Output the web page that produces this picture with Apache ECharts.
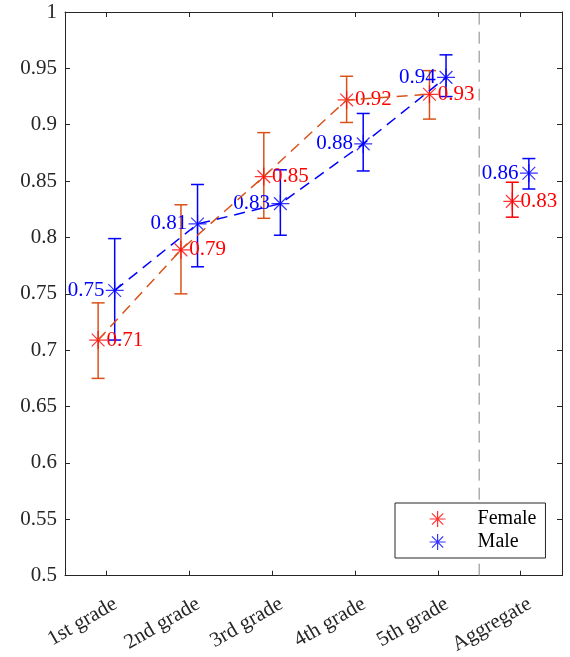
<!DOCTYPE html>
<html><head><meta charset="utf-8">
<script src="https://cdn.jsdelivr.net/npm/echarts@6/dist/echarts.min.js"></script>
<style>html,body{margin:0;padding:0;background:#fff}#c{width:570px;height:657px}</style>
</head><body><div id="c"></div>
<script>
// ---- data ----
const categories = ['1st grade','2nd grade','3rd grade','4th grade','5th grade','Aggregate'];
const femaleMean = [0.709, 0.789, 0.854, 0.922, 0.927, 0.832];
const femaleLow  = [0.675, 0.750, 0.817, 0.902, 0.905, 0.818];
const femaleHigh = [0.742, 0.829, 0.893, 0.943, 0.948, 0.849];
const maleMean   = [0.753, 0.812, 0.830, 0.883, 0.942, 0.857];
const maleLow    = [0.709, 0.774, 0.802, 0.859, 0.925, 0.843];
const maleHigh   = [0.799, 0.847, 0.860, 0.910, 0.962, 0.870];
const yMin = 0.5, yMax = 1, yStep = 0.05;
const groupOffset = 0.1;
const gradeCount = 5;
const separatorX = 5.5;

// ---- styles / layout ----
const FONT = '"Liberation Serif", "Times New Roman", serif';
const AX = '#262626';
const ORANGE = '#D95319', RED = '#FF0000', BLUE = '#0000FF';
const femaleBarColors = [ORANGE, ORANGE, ORANGE, ORANGE, ORANGE, RED];
const STAR = 'path://M0,-10L0,10M-10,0L10,0M-7.07,-7.07L7.07,7.07M-7.07,7.07L7.07,-7.07';
const labelShift = 0.11;

const tickPos = categories.map((_, i) => i + 1);
const labelPos = tickPos.map(v => v + labelShift);
const fX = tickPos.map(v => v - groupOffset), mX = tickPos.map(v => v + groupOffset);

function errData(x, lo, hi, colors) {
  return x.map((v, i) => ({ value: [v, lo[i], hi[i]], itemStyle: { color: colors[i] } }));
}
function errRender(params, api) {
  const x = api.value(0);
  const p1 = api.coord([x, api.value(1)]);
  const p2 = api.coord([x, api.value(2)]);
  const c = api.visual('color');
  const w = 6.5;
  const st = { stroke: c, lineWidth: 1.5 };
  return { type: 'group', children: [
    { type: 'line', shape: { x1: p1[0], y1: p1[1], x2: p2[0], y2: p2[1] }, style: st },
    { type: 'line', shape: { x1: p1[0]-w, y1: p1[1], x2: p1[0]+w, y2: p1[1] }, style: st },
    { type: 'line', shape: { x1: p2[0]-w, y1: p2[1], x2: p2[0]+w, y2: p2[1] }, style: st }
  ]};
}
function labelRender(color, align, dx) {
  return function (params, api) {
    const p = api.coord([api.value(0), api.value(1)]);
    return { type: 'text', x: p[0] + dx, y: p[1], style: {
      text: api.value(1).toFixed(2), fill: color, font: '21px ' + FONT,
      align: align, verticalAlign: 'middle' } };
  };
}

const chart = echarts.init(document.getElementById('c'), null, { renderer: 'canvas' });
chart.setOption({
  animation: false,
  backgroundColor: '#fff',
  grid: { left: 65, right: 8, top: 12, bottom: 80 },
  xAxis: [
    { type: 'value', min: 0.5, max: categories.length + 0.5, position: 'bottom',
      axisLine: { show: true, lineStyle: { color: AX, width: 1 } },
      axisTick: { show: true, inside: true, length: 5, customValues: tickPos, lineStyle: { color: AX } },
      axisLabel: { show: true, customValues: labelPos, rotate: 30, margin: 27, color: AX,
        fontFamily: FONT, fontSize: 21, hideOverlap: false,
        formatter: v => categories[Math.round(v - labelShift) - 1] },
      splitLine: { show: false } },
    { type: 'value', min: 0.5, max: categories.length + 0.5, position: 'top',
      axisLine: { show: true, lineStyle: { color: AX, width: 1 } },
      axisTick: { show: true, inside: true, length: 5, customValues: tickPos, lineStyle: { color: AX } },
      axisLabel: { show: false }, splitLine: { show: false } }
  ],
  yAxis: [
    { type: 'value', min: yMin, max: yMax, interval: yStep, position: 'left',
      axisLine: { show: true, lineStyle: { color: AX, width: 1 } },
      axisTick: { show: true, inside: true, length: 5, lineStyle: { color: AX } },
      axisLabel: { margin: 8, color: AX, fontFamily: FONT, fontSize: 21 },
      splitLine: { show: false } },
    { type: 'value', min: yMin, max: yMax, interval: yStep, position: 'right',
      axisLine: { show: true, lineStyle: { color: AX, width: 1 } },
      axisTick: { show: true, inside: true, length: 5, lineStyle: { color: AX } },
      axisLabel: { show: false }, splitLine: { show: false } }
  ],
  legend: {
    orient: 'vertical', left: 395, top: 503,
    padding: [6, 9, 6, 34], itemGap: 3, itemWidth: 16, itemHeight: 16,
    backgroundColor: '#fff', borderColor: AX, borderWidth: 1, borderRadius: 0,
    textStyle: { fontFamily: FONT, fontSize: 20, color: '#000', lineHeight: 20, padding: [0, 0, 0, 27] },
    data: [
      { name: 'Female', icon: STAR, itemStyle: { color: 'rgba(0,0,0,0)', borderColor: RED, borderWidth: 1.2 } },
      { name: 'Male', icon: STAR, itemStyle: { color: 'rgba(0,0,0,0)', borderColor: BLUE, borderWidth: 1.2 } }
    ]
  },
  series: [
    { name: 'sep', type: 'line', silent: true, symbol: 'none',
      data: [[separatorX, yMin], [separatorX, yMax]],
      lineStyle: { color: '#858585', width: 1, type: [12, 7] } },
    { name: 'femaleLine', type: 'line', symbol: 'none',
      data: fX.slice(0, gradeCount).map((x, i) => [x, femaleMean[i]]),
      lineStyle: { color: ORANGE, width: 1.5, type: [11, 7] } },
    { name: 'maleLine', type: 'line', symbol: 'none',
      data: mX.slice(0, gradeCount).map((x, i) => [x, maleMean[i]]),
      lineStyle: { color: BLUE, width: 1.5, type: [11, 7] } },
    { name: 'femaleErr', type: 'custom', renderItem: errRender,
      data: errData(fX, femaleLow, femaleHigh, femaleBarColors) },
    { name: 'maleErr', type: 'custom', renderItem: errRender,
      data: errData(mX, maleLow, maleHigh, categories.map(() => BLUE)) },
    { name: 'Female', type: 'scatter', symbol: STAR, symbolSize: 18,
      itemStyle: { color: 'rgba(0,0,0,0)', borderColor: RED, borderWidth: 1.2 },
      data: fX.map((x, i) => [x, femaleMean[i]]) },
    { name: 'Male', type: 'scatter', symbol: STAR, symbolSize: 18,
      itemStyle: { color: 'rgba(0,0,0,0)', borderColor: BLUE, borderWidth: 1.2 },
      data: mX.map((x, i) => [x, maleMean[i]]) },
    { name: 'femaleLbl', type: 'custom', renderItem: labelRender(RED, 'left', 0),
      data: tickPos.map((x, i) => [x, femaleMean[i]]) },
    { name: 'maleLbl', type: 'custom', renderItem: labelRender(BLUE, 'right', -2),
      data: tickPos.map((x, i) => [x, maleMean[i]]) }
  ]
});
</script></body></html>
